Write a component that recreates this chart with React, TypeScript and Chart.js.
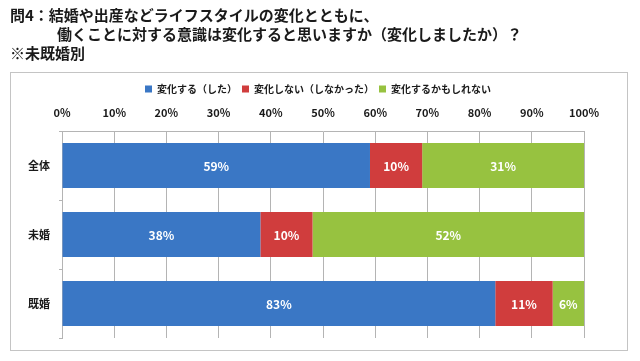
import React, { useEffect, useRef } from "react";
import { Chart, registerables } from "chart.js";

Chart.register(...registerables);

const titleLines = [
  "問4：結婚や出産などライフスタイルの変化とともに、",
  "働くことに対する意識は変化すると思いますか（変化しましたか）？",
  "※未既婚別",
];
const categories = ["全体", "未婚", "既婚"];
const seriesNames = ["変化する（した）", "変化しない（しなかった）", "変化するかもしれない"];
const changeValues = [59, 38, 83];
const noChangeValues = [10, 10, 11];
const maybeValues = [31, 52, 6];
const seriesColors = ["#3a77c5", "#d03d3d", "#97c240"];
const xTicks = [0, 10, 20, 30, 40, 50, 60, 70, 80, 90, 100];

const FONT = "'Noto Sans CJK JP', 'Noto Sans', sans-serif";

const decorPlugin = {
  id: "decor",
  afterLayout(chart: any) {
    if (chart.legend) {
      chart.legend.left += 26;
      chart.legend.right += 26;
    }
  },
  beforeDraw(chart: any) {
    const ctx = chart.ctx;
    ctx.save();
    ctx.fillStyle = "#ffffff";
    ctx.fillRect(0, 0, chart.width, chart.height);
    ctx.strokeStyle = "#c4c4c4";
    ctx.lineWidth = 1;
    ctx.strokeRect(10.5, 72.5, 617, 278);
    ctx.fillStyle = "#1a1a1a";
    ctx.font = `bold 15px ${FONT}`;
    ctx.textBaseline = "middle";
    ctx.textAlign = "left";
    ctx.fillText(titleLines[0], 10, 15);
    ctx.fillText(titleLines[1], 57, 34);
    ctx.fillText(titleLines[2], 10, 53);
    ctx.restore();
  },
  afterDatasetsDraw(chart: any) {
    const ctx = chart.ctx;
    ctx.save();
    ctx.fillStyle = "#ffffff";
    ctx.font = `bold 12px ${FONT}`;
    ctx.textAlign = "center";
    ctx.textBaseline = "middle";
    chart.data.datasets.forEach((ds: any, di: number) => {
      const meta = chart.getDatasetMeta(di);
      meta.data.forEach((bar: any, i: number) => {
        const p = bar.getProps(["x", "y", "base"], true);
        const cx = (p.x + p.base) / 2;
        ctx.fillText(`${ds.data[i]}%`, cx, p.y + 1);
      });
    });
    ctx.restore();
  },
};

export default function App() {
  const ref = useRef<HTMLCanvasElement>(null);
  useEffect(() => {
    if (!ref.current) return;
    const values = [changeValues, noChangeValues, maybeValues];
    const chart = new Chart(ref.current, {
      type: "bar",
      data: {
        labels: categories,
        datasets: seriesNames.map((name, i) => ({
          label: name,
          data: values[i],
          backgroundColor: seriesColors[i],
          borderWidth: 0,
          barPercentage: 0.65,
          categoryPercentage: 1,
        })),
      },
      options: {
        indexAxis: "y",
        animation: false,
        responsive: false,
        devicePixelRatio: 1,
        layout: { padding: { top: 79, right: 56, bottom: 23, left: 0 } },
        plugins: {
          title: { display: false },
          tooltip: { enabled: false },
          legend: {
            display: true,
            position: "top",
            labels: {
              boxWidth: 7,
              boxHeight: 7,
              padding: 5,
              color: "#1a1a1a",
              font: { family: FONT, size: 10, weight: "bold" },
            },
          },
        },
        scales: {
          x: {
            position: "top",
            stacked: true,
            min: 0,
            max: 100,
            afterFit: (s: any) => {
              s.height = 27;
            },
            afterBuildTicks: (s: any) => {
              s.ticks = xTicks.map((v) => ({ value: v }));
            },
            ticks: {
              padding: 12,
              color: "#1a1a1a",
              font: { family: FONT, size: 11, weight: "bold" },
              callback: (v: any) => `${v}%`,
            },
            grid: { color: "#b4b4b4", drawTicks: false },
            border: { display: true, color: "#b4b4b4" },
          },
          y: {
            stacked: true,
            afterFit: (s: any) => {
              s.width = 62;
            },
            ticks: {
              padding: 9,
              color: "#1a1a1a",
              font: { family: FONT, size: 11, weight: "bold" },
            },
            grid: {
              offset: true,
              drawOnChartArea: false,
              tickLength: 3,
              color: "#b4b4b4",
            },
            border: { display: true, color: "#b4b4b4" },
          },
        },
      },
      plugins: [decorPlugin],
    });
    return () => chart.destroy();
  }, []);
  return (
    <div style={{ position: "fixed", left: 0, top: 0, width: 640, height: 361, background: "#fff" }}>
      <canvas ref={ref} width={640} height={361} style={{ display: "block" }} />
    </div>
  );
}
